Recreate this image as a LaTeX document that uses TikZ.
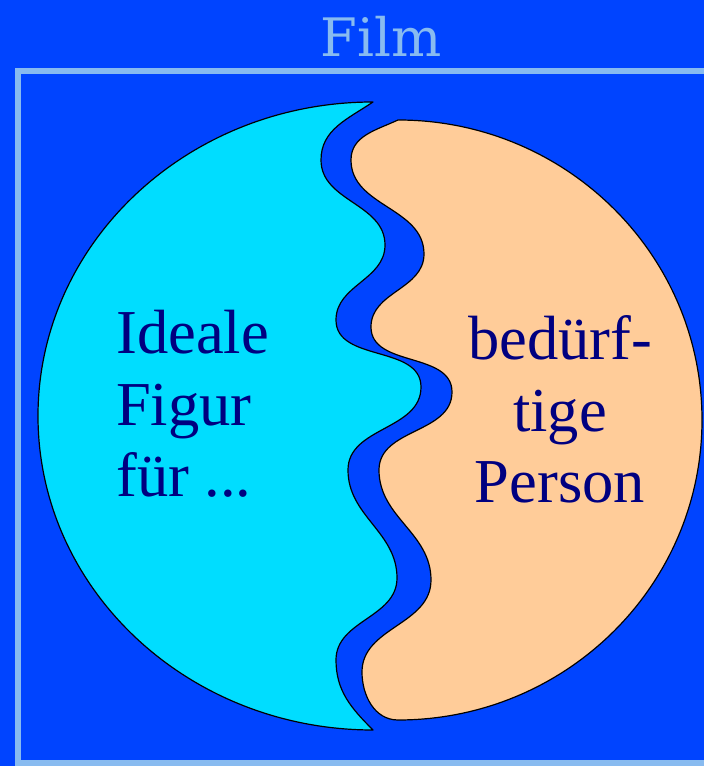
\documentclass[tikz,border=0pt]{standalone}
\usepackage{fontspec}
\setmainfont{Liberation Serif}
\newfontfamily\filmfont{DejaVu Serif}
\definecolor{filmblau}{HTML}{0044FF}
\definecolor{rahmen}{HTML}{88BBF0}
\definecolor{ideal}{HTML}{00DDFF}
\definecolor{beduerftig}{HTML}{FFCC99}
\definecolor{schrift}{HTML}{000080}
\newcommand{\punkte}{...}
\tikzset{
  haelfte/.style={draw=black, line width=1.2pt, line join=round},
  wort/.style={text=schrift, font=\fontsize{62.5}{71}\selectfont, inner sep=0pt},
}

\begin{document}
\begin{tikzpicture}[x=1pt,y=1pt]
    % background and frame
    \useasboundingbox (0,0) rectangle (704,766);
    \clip (0,0) rectangle (704,766);
    \fill[filmblau] (0,0) rectangle (704,766);
    \draw[rahmen, line width=6.5pt] (18,695) rectangle (730,3);
    \node[text=rahmen, font=\filmfont\fontsize{53}{60}\selectfont, anchor=base, inner sep=0pt] (film) at (381,709) {Film};
    % left half
    \filldraw[haelfte, fill=ideal] (373,664)
        arc[start angle=90, end angle=270, x radius=335, y radius=314]
        to[out=135, in=-90] (336,106) to[out=90, in=-90] (397,188)
        to[out=90, in=-90] (348,296) to[out=90, in=-90] (421,379)
        to[out=90, in=-90] (336,446) to[out=90, in=-90] (385,521)
        to[out=90, in=-90] (321,606) to[out=90, in=214] cycle;
    % right half
    \filldraw[haelfte, fill=beduerftig] (398,646)
        to[out=205, in=90] (351,606) to[out=-90, in=90] (424,512)
        to[out=-90, in=90] (371,439) to[out=-90, in=90] (452,374)
        to[out=-90, in=90] (379,296) to[out=-90, in=90] (431,186)
        to[out=-90, in=90] (362,94) to[out=-90, in=180] (398,46)
        arc[start angle=-90, end angle=90, x radius=304, y radius=300] -- cycle;
    % texts
    \foreach[count=\i] \zeile/\yb in {Ideale/412, Figur/340, für \punkte/269}
        \node[wort, anchor=base west] (ideal\i) at (116,\yb) {\zeile};
    \foreach[count=\i] \zeile/\yb in {bedürf-/406, tige/334, Person/263}
        \node[wort, anchor=base] (person\i) at (560,\yb) {\zeile};
\end{tikzpicture}
\end{document}
